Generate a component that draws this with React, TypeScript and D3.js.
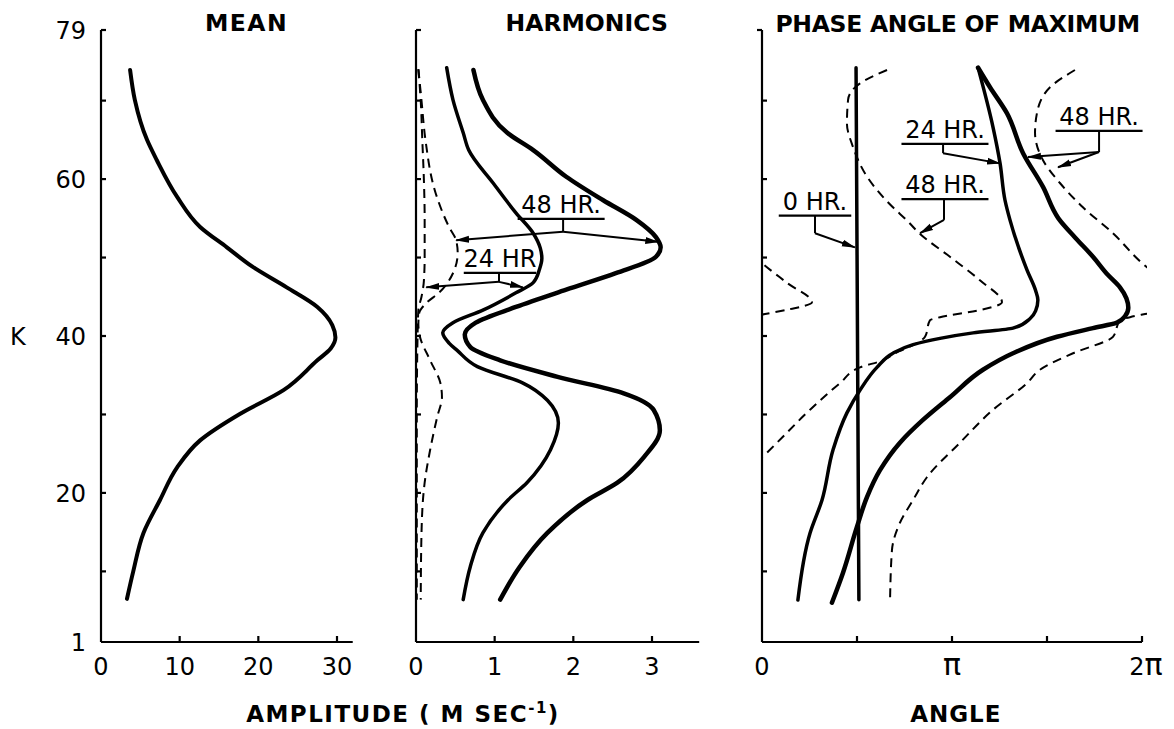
import * as d3 from 'd3'

type Pt = [number, number]

// K levels on the vertical axis
const kTicks = [1, 10, 20, 30, 40, 50, 60, 70, 79]
const kLabels = [1, 20, 40, 60, 79]

const meanTicks = [0, 10, 20, 30]
const harmTicks = [0, 1, 2, 3]
const phaseTicks = [0, 0.5, 1, 1.5, 2]
const phaseLabels: [number, string][] = [[0, '0'], [1, 'π'], [2, '2π']]

// mean amplitude (m/s) vs K
const meanCurve: Pt[] = [
  [3.7, 73.9], [4.3, 70.1], [5.85, 65], [7.1, 62.4], [9.7, 57.7], [12.6, 53.9],
  [16, 51.3], [19.3, 48.8], [23.6, 46.2], [27.5, 43.7], [29.4, 41.4], [29.8, 39.8],
  [29.2, 38.4], [27.5, 36.9], [23.2, 33.1], [17.7, 30.1], [12.6, 26.7], [9.7, 23.3],
  [7.5, 19.1], [5.4, 14.9], [4.1, 10], [3.3, 6.5]
]

// harmonic amplitudes vs K
const harm24: Pt[] = [
  [0.39, 74.2], [0.47, 70.1], [0.6, 65.9], [0.67, 63.7], [0.98, 59.5], [1.27, 55.7],
  [1.49, 53.1], [1.58, 51.2], [1.6, 49.9], [1.57, 48.5], [1.49, 46.8], [1.27, 45.5],
  [0.85, 43.3], [0.47, 41.7], [0.34, 40.4], [0.42, 39.1], [0.52, 38.2], [0.78, 36.1],
  [1.36, 34], [1.67, 31.8], [1.81, 28.9], [1.71, 25.5], [1.41, 21.3], [1.17, 19.1],
  [0.85, 14.9], [0.69, 10.6], [0.6, 6.4]
]
const harm48: Pt[] = [
  [0.73, 73.9], [0.85, 70.1], [1.16, 65.9], [1.49, 63.7], [1.91, 60.3], [2.38, 57.3],
  [2.8, 54.8], [3.05, 52.6], [3.11, 51.3], [3.05, 50.1], [2.54, 48], [1.91, 45.9],
  [1.27, 43.7], [0.76, 41.7], [0.62, 40.2], [0.69, 38.6], [1.07, 36.9], [1.8, 34.8],
  [2.64, 32.7], [3.02, 30.6], [3.1, 28], [2.9, 24.6], [2.56, 21.3], [2.18, 19.1],
  [1.67, 14.9], [1.32, 10.6], [1.07, 6.4]
]
const harm24Dash: Pt[] = [
  [0.03, 74], [0.06, 70], [0.08, 65], [0.1, 60], [0.11, 55], [0.11, 50], [0.1, 47],
  [0.07, 45], [0.03, 43.3], [0.02, 40], [0.01, 30], [0.01, 20], [0.01, 6.4]
]
const harm48Dash: Pt[] = [
  [0.03, 74], [0.07, 70], [0.12, 65], [0.25, 58.2], [0.42, 53.9], [0.51, 52.2],
  [0.53, 50.6], [0.47, 48], [0.29, 45.5], [0.13, 44.2], [0.04, 42.9], [0.03, 41.5],
  [0.05, 39.9], [0.18, 36.9], [0.31, 34], [0.33, 32.2], [0.27, 29.7], [0.18, 25.5],
  [0.11, 21.3], [0.07, 14.9], [0.06, 6.4]
]

// phase angle of maximum (in units of pi) vs K
const phase0: Pt[] = [[0.495, 74.2], [0.51, 6.4]]
const phase24: Pt[] = [
  [1.137, 74.2], [1.216, 66.6], [1.253, 62], [1.279, 57.3], [1.305, 54.8], [1.395, 48.4],
  [1.44, 45.8], [1.452, 44.6], [1.44, 43.2], [1.41, 42.2], [1.321, 41], [1.111, 40.4],
  [0.937, 39.7], [0.795, 38.9], [0.689, 37.8], [0.605, 36], [0.516, 33.1], [0.447, 30.2],
  [0.374, 25.5], [0.316, 19.1], [0.253, 14.9], [0.189, 6.35]
]
const phase48: Pt[] = [
  [1.137, 74.2], [1.2, 71.7], [1.289, 68.4], [1.374, 63.3], [1.479, 59], [1.56, 55],
  [1.65, 52.5], [1.742, 50.1], [1.82, 47.8], [1.884, 46.2], [1.918, 44.8], [1.928, 43.6],
  [1.91, 42.5], [1.868, 41.7], [1.742, 41], [1.553, 39.9], [1.321, 37.8], [1.163, 35.7],
  [0.989, 32.2], [0.847, 29.3], [0.726, 26.4], [0.621, 22.9], [0.553, 19.5], [0.5, 15.7],
  [0.426, 9.8], [0.368, 6]
]
const phaseDashA: Pt[] = [
  [0.658, 73.9], [0.516, 72.2], [0.453, 70.1], [0.447, 67.1], [0.479, 64.1], [0.553, 60.3],
  [0.689, 56.4], [0.76, 54.8], [0.832, 53], [0.989, 50.1], [1.147, 47.1], [1.263, 44.3],
  [1.147, 43.3], [0.937, 42.4], [0.884, 42], [0.858, 39.9], [0.8, 38.9], [0.7, 37.8],
  [0.637, 36.9], [0.516, 36], [0.411, 34], [0.253, 30.6], [0.079, 26.4], [0.005, 24.6]
]
// wraps past 2pi, drawn a second time shifted by -2pi
const phaseDashB: Pt[] = [
  [1.647, 73.9], [1.516, 71.7], [1.447, 68.4], [1.437, 65.9], [1.479, 62.4], [1.568, 59.5],
  [1.689, 56.4], [1.847, 53.1], [2.0, 49.3], [2.13, 46.8], [2.263, 44.3], [2.134, 43.35],
  [2.016, 42.8], [1.937, 42.4], [1.884, 42], [1.847, 39.9], [1.637, 37.8], [1.463, 35.7],
  [1.395, 34], [1.216, 30.6], [1.042, 26.4], [0.868, 22], [0.795, 19.1], [0.726, 16.2],
  [0.684, 12.7], [0.674, 6.35]
]

type Note = { text: string; x: number; k: number; knee: Pt; targets: Pt[] }
const harmNotes: Note[] = [
  { text: '48 HR.', x: 1.845, k: 55.7, knee: [1.87, 53.3], targets: [[0.51, 52.2], [3.08, 52.0]] },
  { text: '24 HR', x: 1.068, k: 48.8, knee: [1.055, 46.9], targets: [[0.13, 46.2], [1.36, 46.2]] }
]
const phaseNotes: Note[] = [
  { text: '24 HR.', x: 0.963, k: 65.24, knee: [0.953, 63.3], targets: [[1.253, 62]] },
  { text: '48 HR.', x: 1.774, k: 66.9, knee: [1.774, 63.45], targets: [[1.4, 62.8], [1.558, 61.5]] },
  { text: '48 HR.', x: 0.963, k: 58.2, knee: [0.958, 54.8], targets: [[0.832, 53.1]] },
  { text: '0 HR.', x: 0.279, k: 56.1, knee: [0.279, 53.1], targets: [[0.489, 51.3]] }
]

const W = 1174
const H = 729
const FONT = 'DejaVu Sans, sans-serif'

const yK = d3.scaleLinear().domain([1, 79]).range([642, 30])
const xMean = d3.scaleLinear().domain([0, 30]).range([101, 337])
const xHarm = d3.scaleLinear().domain([0, 3]).range([416, 652])
const xPhase = d3.scaleLinear().domain([0, 2]).range([762, 1142])

const lineFor = (xs: d3.ScaleLinear<number, number>, shift = 0) =>
  d3.line<Pt>().x(d => xs(d[0] + shift)).y(d => yK(d[1])).curve(d3.curveMonotoneY)

function Frame({ xs, xMax, ticks, topLeft }: any) {
  const x0 = xs(0)
  const yb = yK(1)
  return (
    <g stroke="#000" strokeWidth={2.2} fill="none">
      <line x1={x0} y1={yK(79)} x2={x0} y2={yb} />
      <line x1={x0} y1={yb} x2={xs(xMax)} y2={yb} />
      {kTicks.slice(1).map(k => (
        <line key={k} x1={topLeft && k === 79 ? x0 - 5 : x0} y1={yK(k)} x2={topLeft && k === 79 ? x0 : x0 + 5} y2={yK(k)} />
      ))}
      {ticks.slice(1).map((t: number) => (
        <line key={t} x1={xs(t)} y1={yb} x2={xs(t)} y2={yb - 6} />
      ))}
    </g>
  )
}

function Notes({ notes, xs }: { notes: Note[]; xs: d3.ScaleLinear<number, number> }) {
  return (
    <g fontFamily={FONT} fontSize={24}>
      {notes.map((n, i) => {
        const cx = xs(n.x)
        const by = yK(n.k)
        const w = n.text.length * 14.5
        const kx = xs(n.knee[0])
        const ky = yK(n.knee[1])
        return (
          <g key={i}>
            <text x={cx} y={by} textAnchor="middle" fill="#000">{n.text}</text>
            <line x1={cx - w / 2} x2={cx + w / 2} y1={by + 6} y2={by + 6} stroke="#000" strokeWidth={2.2} />
            <line x1={kx} x2={kx} y1={by + 6} y2={ky} stroke="#000" strokeWidth={2} />
            {n.targets.map((t, j) => (
              <line key={j} x1={kx} y1={ky} x2={xs(t[0])} y2={yK(t[1])} stroke="#000" strokeWidth={2} markerEnd="url(#arrow)" />
            ))}
          </g>
        )
      })}
    </g>
  )
}

export default function App() {
  const lm = lineFor(xMean)
  const lh = lineFor(xHarm)
  const lp = lineFor(xPhase)
  const lpShift = lineFor(xPhase, -2)
  const dash = { fill: 'none', stroke: '#000', strokeWidth: 2, strokeDasharray: '9,6' }
  const solid = (w: number) => ({ fill: 'none', stroke: '#000', strokeWidth: w, strokeLinecap: 'round' as const, strokeLinejoin: 'round' as const })

  return (
    <svg width={W} height={H} style={{ position: 'absolute', left: 0, top: 0, background: '#fff' }}>
      <defs>
        <marker id="arrow" viewBox="0 0 14 8" refX={13} refY={4} markerWidth={14} markerHeight={8} orient="auto" markerUnits="userSpaceOnUse">
          <path d="M0,0.5 L14,4 L0,7.5 z" fill="#000" />
        </marker>
        <clipPath id="phaseClip">
          <rect x={xPhase(0)} y={yK(79)} width={xPhase(2) - xPhase(0) + 5} height={yK(1) - yK(79)} />
        </clipPath>
      </defs>
      <rect width={W} height={H} fill="#fff" />

      {/* titles */}
      <g fontFamily={FONT} fontWeight="bold" fontSize={23.5} textAnchor="middle" fill="#000">
        <text x={xMean(18.5)} y={31} letterSpacing={1.5}>MEAN</text>
        <text x={xHarm(2.17)} y={31}>HARMONICS</text>
        <text x={xPhase(1.03)} y={32} letterSpacing={-0.3}>PHASE ANGLE OF MAXIMUM</text>
      </g>
      <g fontFamily={FONT} fontWeight="bold" fontSize={23} textAnchor="middle" fill="#000">
        <text x={403} y={722} letterSpacing={1.5}>
          AMPLITUDE ( M SEC<tspan dy={-9} fontSize={15}>-1</tspan><tspan dy={9}>)</tspan>
        </text>
        <text x={xPhase(1.02)} y={722} letterSpacing={1}>ANGLE</text>
      </g>

      {/* K axis labels */}
      <g fontFamily={FONT} fontSize={24} fill="#000">
        {kLabels.map(k => (
          <text key={k} x={86} y={yK(k)} dy="0.36em" textAnchor="end">{k}</text>
        ))}
        <text x={10} y={yK(40)} dy="0.36em">K</text>
      </g>

      {/* x tick labels */}
      <g fontFamily={FONT} fontSize={24} fill="#000" textAnchor="middle">
        {meanTicks.map(t => <text key={t} x={xMean(t)} y={675}>{t}</text>)}
        {harmTicks.map(t => <text key={t} x={xHarm(t)} y={675}>{t}</text>)}
        {phaseLabels.map(([v, s]) => (
          <text key={s} x={xPhase(v) + (v === 2 ? 4 : 0)} y={675}>
            {s.includes('π') ? (<>{s.replace('π', '')}<tspan fontSize={30}>π</tspan></>) : s}
          </text>
        ))}
      </g>

      <Frame xs={xMean} xMax={32} ticks={meanTicks} />
      <Frame xs={xHarm} xMax={3.6} ticks={harmTicks} />
      <Frame xs={xPhase} xMax={2} ticks={phaseTicks} topLeft />

      {/* mean */}
      <path d={lm(meanCurve) ?? ''} {...solid(4)} />

      {/* harmonics */}
      <path d={lh(harm24Dash) ?? ''} {...dash} />
      <path d={lh(harm48Dash) ?? ''} {...dash} />
      <path d={lh(harm24) ?? ''} {...solid(3.5)} />
      <path d={lh(harm48) ?? ''} {...solid(4.5)} />
      <Notes notes={harmNotes} xs={xHarm} />

      {/* phase */}
      <g clipPath="url(#phaseClip)">
        <path d={lp(phaseDashA) ?? ''} {...dash} />
        <path d={lp(phaseDashB) ?? ''} {...dash} />
        <path d={lpShift(phaseDashB) ?? ''} {...dash} />
      </g>
      <path d={lp(phase0) ?? ''} {...solid(3.5)} />
      <path d={lp(phase24) ?? ''} {...solid(3.5)} />
      <path d={lp(phase48) ?? ''} {...solid(4.5)} />
      <Notes notes={phaseNotes} xs={xPhase} />
    </svg>
  )
}
